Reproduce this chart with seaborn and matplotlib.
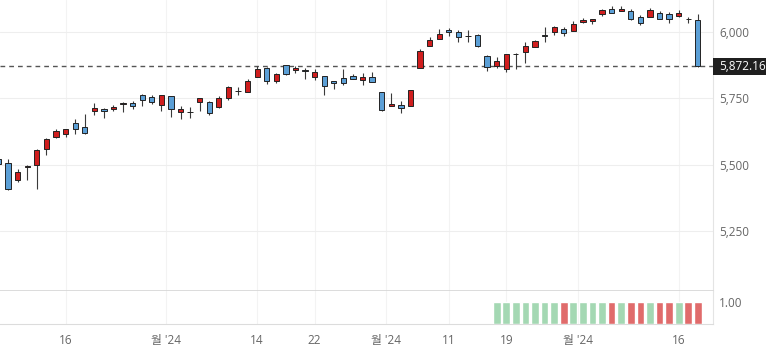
import numpy as np
import pandas as pd
import matplotlib
matplotlib.use("Agg")
import matplotlib.pyplot as plt
import matplotlib.transforms as mtransforms
from matplotlib.patches import Rectangle
from matplotlib.ticker import FuncFormatter
import seaborn as sns

# ---------------- data (daily OHLC) ----------------
dates = ["2024-09-05", "2024-09-06", "2024-09-09", "2024-09-10", "2024-09-11", "2024-09-12", "2024-09-13",
         "2024-09-16", "2024-09-17", "2024-09-18", "2024-09-19", "2024-09-20", "2024-09-23", "2024-09-24",
         "2024-09-25", "2024-09-26", "2024-09-27", "2024-09-30", "2024-10-01", "2024-10-02", "2024-10-03",
         "2024-10-04", "2024-10-07", "2024-10-08", "2024-10-09", "2024-10-10", "2024-10-11", "2024-10-14",
         "2024-10-15", "2024-10-16", "2024-10-17", "2024-10-18", "2024-10-21", "2024-10-22", "2024-10-23",
         "2024-10-24", "2024-10-25", "2024-10-28", "2024-10-29", "2024-10-30", "2024-10-31", "2024-11-01",
         "2024-11-04", "2024-11-05", "2024-11-06", "2024-11-07", "2024-11-08", "2024-11-11", "2024-11-12",
         "2024-11-13", "2024-11-14", "2024-11-15", "2024-11-18", "2024-11-19", "2024-11-20", "2024-11-21",
         "2024-11-22", "2024-11-25", "2024-11-26", "2024-11-27", "2024-11-29", "2024-12-02", "2024-12-03",
         "2024-12-04", "2024-12-05", "2024-12-06", "2024-12-09", "2024-12-10", "2024-12-11", "2024-12-12",
         "2024-12-13", "2024-12-16", "2024-12-17", "2024-12-18"]

opens = [5520.1, 5507.3, 5442.1, 5490.5, 5496.4, 5557.5, 5603.3,
         5615.2, 5655.5, 5641.7, 5702.6, 5709.4, 5711.9, 5727.3,
         5733.7, 5762.2, 5755.4, 5726.5, 5757.7, 5698.2, 5698.2,
         5737.9, 5737.8, 5719.1, 5751.8, 5778.4, 5775.1, 5829.8,
         5866.7, 5816.6, 5875.6, 5859.4, 5857.8, 5832.7, 5834.5,
         5817.8, 5826.8, 5833.9, 5819.7, 5832.7, 5775.3, 5723.2,
         5725.2, 5722.4, 5864.9, 5947.2, 5976.8, 6008.9, 6003.6,
         5985.8, 5989.7, 5912.8, 5874.2, 5863.0, 5917.1, 5924.4,
         5944.4, 5992.3, 6000.0, 6014.1, 6004.0, 6040.1, 6042.0,
         6069.4, 6089.0, 6081.4, 6083.0, 6057.6, 6060.2, 6074.3,
         6068.2, 6063.8, 6052.6, 6047.7]

highs = [5546.3, 5522.5, 5484.2, 5497.9, 5560.4, 5600.7, 5636.3,
         5636.1, 5670.8, 5689.8, 5733.6, 5715.1, 5725.4, 5735.3,
         5741.0, 5767.4, 5763.8, 5765.1, 5757.7, 5720.3, 5718.8,
         5753.4, 5739.4, 5757.6, 5796.8, 5795.0, 5822.1, 5871.4,
         5870.4, 5846.5, 5878.5, 5872.2, 5866.9, 5863.0, 5834.9,
         5817.8, 5862.8, 5842.9, 5847.2, 5850.9, 5775.3, 5772.6,
         5741.4, 5783.4, 5936.1, 5983.8, 6012.5, 6017.3, 6007.6,
         6008.2, 5993.9, 5915.3, 5908.1, 5918.8, 5920.7, 5963.4,
         5972.9, 6020.8, 6025.4, 6020.2, 6044.2, 6053.6, 6052.9,
         6089.8, 6099.9, 6099.9, 6088.5, 6065.4, 6092.6, 6079.7,
         6078.6, 6085.2, 6057.7, 6070.7]

lows = [5490.2, 5402.6, 5434.5, 5441.7, 5407.0, 5535.5, 5601.7,
        5604.5, 5614.1, 5615.1, 5686.4, 5674.5, 5704.2, 5699.0,
        5712.1, 5721.0, 5727.3, 5703.5, 5681.3, 5674.0, 5677.1,
        5702.8, 5686.9, 5714.6, 5745.0, 5764.8, 5775.1, 5829.8,
        5804.5, 5808.3, 5840.3, 5846.1, 5824.3, 5821.2, 5762.4,
        5784.9, 5800.0, 5823.1, 5802.8, 5811.3, 5702.9, 5723.2,
        5696.5, 5722.1, 5864.9, 5947.2, 5976.8, 5986.7, 5965.4,
        5965.1, 5946.9, 5853.0, 5866.0, 5850.9, 5860.6, 5885.3,
        5944.4, 5963.9, 5992.3, 5984.9, 6004.0, 6035.3, 6033.4,
        6061.1, 6080.0, 6080.0, 6048.6, 6029.9, 6060.2, 6051.3,
        6035.8, 6059.1, 6035.2, 5867.8]

closes = [5503.4, 5408.4, 5471.1, 5495.5, 5554.1, 5595.8, 5626.0,
          5633.1, 5634.6, 5618.3, 5713.6, 5702.6, 5718.6, 5732.9,
          5722.3, 5745.4, 5738.2, 5762.5, 5708.8, 5709.5, 5699.9,
          5751.1, 5695.9, 5751.1, 5792.0, 5780.1, 5815.0, 5859.9,
          5815.3, 5842.5, 5841.5, 5864.7, 5854.0, 5851.2, 5797.4,
          5809.9, 5808.1, 5823.5, 5832.9, 5813.7, 5705.5, 5728.8,
          5712.7, 5782.8, 5929.0, 5973.1, 5995.5, 6001.4, 5984.0,
          5985.4, 5949.2, 5870.6, 5893.6, 5917.0, 5917.1, 5948.7,
          5969.3, 5987.4, 6021.6, 5998.7, 6032.4, 6047.2, 6049.9,
          6086.5, 6075.1, 6090.3, 6052.9, 6034.9, 6084.2, 6051.3,
          6051.1, 6074.1, 6050.6, 5872.16]

# lower panel: last 22 sessions, value 1.00, coloured by direction
signal_values = [1.0, 1.0, 1.0, 1.0, 1.0, 1.0, 1.0, 1.0, 1.0, 1.0, 1.0,
                 1.0, 1.0, 1.0, 1.0, 1.0, 1.0, 1.0, 1.0, 1.0, 1.0, 1.0]
signal_dirs = ["up", "up", "up", "up", "up", "up", "up", "down", "up", "up", "up",
               "up", "down", "up", "down", "down", "up", "down", "down", "up", "down", "down"]

price_ticks = [5250, 5500, 5750, 6000]
tick_dates = ["2024-09-16", "2024-10-01", "2024-10-14", "2024-10-22", "2024-11-01",
              "2024-11-11", "2024-11-19", "2024-12-02", "2024-12-16"]
tick_labels = ["16", "월 '24", "14", "22", "월 '24", "11", "19", "월 '24", "16"]
month_start = [False, True, False, False, True, False, False, True, False]

# ---------------- style ----------------
sns.set_theme(style="white")
plt.rcParams['font.family'] = ['Open Sans', 'Noto Sans CJK KR', 'DejaVu Sans']

RED = "#d01e1e"
BLUE = "#5b9fd6"
GREEN = "#a4d8b3"
LRED = "#e06b6b"
LABEL = "#666666"
FS = 8.5

W, H = 773, 357
fig = plt.figure(figsize=(W / 100, H / 100), dpi=100)
fig.patch.set_facecolor("white")
ax = fig.add_axes([0, 66 / H, 713 / W, 291 / H])
axl = fig.add_axes([0, 33 / H, 713 / W, 33 / H], sharex=ax)

idx = np.arange(len(dates))
o = np.array(opens); h = np.array(highs); l = np.array(lows); c = np.array(closes)
body_colors = np.where(c >= o, RED, BLUE)

# candles
ax.vlines(idx, l, h, color="#3a3a3a", lw=0.8, zorder=2)
ax.bar(idx, np.abs(c - o), bottom=np.minimum(o, c), width=0.55, color=body_colors,
       edgecolor="#222222", linewidth=0.7, zorder=3)

# last close dashed line + tag
last = closes[-1]
ax.axhline(last, color="#555555", lw=1.0, ls=(0, (3.4, 2.9)), zorder=1)
blend = mtransforms.blended_transform_factory(ax.transAxes, ax.transData)
ax.add_patch(Rectangle((1.0, last - 32), 53 / 713, 64, transform=blend,
                       fc="#1f1f1f", ec="none", clip_on=False, zorder=6))
ax.text(1.0 + 6 / 713, last, f"{last:,.2f}", transform=blend, color="white",
        fontsize=FS, va="center", ha="left", zorder=7, clip_on=False)

ax.set_ylim(5021, 6123)
ax.set_yticks(price_ticks)
ax.yaxis.set_major_formatter(FuncFormatter(lambda v, p: f"{v:,.0f}"))
ax.yaxis.tick_right()
ax.tick_params(axis="y", length=0, pad=4.3, labelsize=FS, labelcolor=LABEL)
ax.tick_params(axis="x", length=0, labelbottom=False)
ax.grid(axis="y", color="#eeeeee", lw=0.8)
ax.grid(axis="x", color="#f3f3f3", lw=0.8)
ax.set_axisbelow(True)
for s in ["top", "left"]:
    ax.spines[s].set_visible(False)
ax.spines["bottom"].set_color("#d6d6d6"); ax.spines["bottom"].set_linewidth(1.2)
ax.spines["right"].set_color("#e4e4e4"); ax.spines["right"].set_linewidth(0.8)

# lower panel
n = len(signal_values)
df = pd.DataFrame({"i": idx[-n:], "v": signal_values, "dir": signal_dirs})
sns.barplot(data=df, x="i", y="v", hue="dir", palette={"up": GREEN, "down": LRED},
            native_scale=True, dodge=False, width=0.8, errorbar=None, legend=False,
            saturation=1, ax=axl, zorder=3)
axl.set_xlabel(""); axl.set_ylabel("")
axl.set_ylim(0, 1.48)
axl.set_yticks([1.0]); axl.set_yticklabels(["1.00"])
axl.yaxis.tick_right()
axl.tick_params(axis="y", length=0, pad=4.3, labelsize=FS, labelcolor=LABEL)

date_index = {d: i for i, d in enumerate(dates)}
tick_pos = [date_index[d] - (0.55 if m else 0.0) for d, m in zip(tick_dates, month_start)]
axl.set_xlim(0.157, 74.58)
axl.set_xticks(tick_pos)
axl.set_xticklabels(tick_labels)
axl.tick_params(axis="x", length=3, color="#dddddd", width=0.8, pad=4,
                labelsize=FS, labelcolor=LABEL)
axl.grid(axis="x", color="#f3f3f3", lw=0.8)
axl.grid(axis="y", visible=False)
axl.set_axisbelow(True)
for s in ["top", "left"]:
    axl.spines[s].set_visible(False)
axl.spines["bottom"].set_color("#dcdcdc"); axl.spines["bottom"].set_linewidth(0.8)
axl.spines["right"].set_color("#e4e4e4"); axl.spines["right"].set_linewidth(0.8)

fig.savefig("out.png", dpi=100, facecolor="white")
